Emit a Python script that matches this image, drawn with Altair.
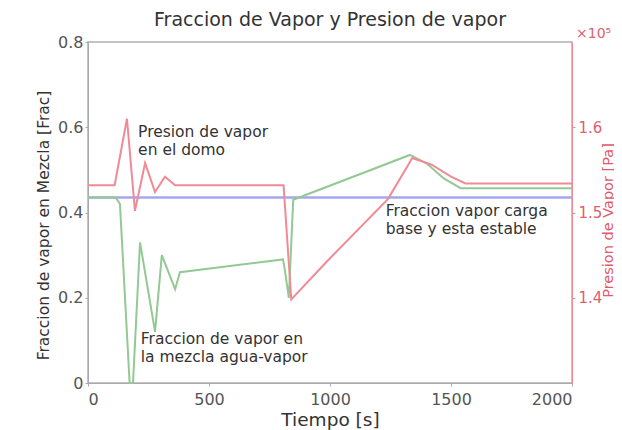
import altair as alt
import pandas as pd

# ---- data ----
x_ticks = [0, 500, 1000, 1500, 2000]
left_ticks = [0, 0.2, 0.4, 0.6, 0.8]
right_ticks = [1.4, 1.5, 1.6]

t_blue = [0, 2000]
v_blue = [0.435, 0.435]

t_green = [0, 115, 132, 172, 186, 215, 277, 305, 360, 380, 806, 812, 830, 848,
           1330, 1400, 1470, 1540, 2000]
v_green = [0.435, 0.435, 0.42, 0.0, 0.0, 0.33, 0.12, 0.30, 0.22, 0.26, 0.29, 0.27,
           0.20, 0.43, 0.535, 0.515, 0.48, 0.457, 0.457]

# pressure, in units of 1e5 Pa
t_red = [0, 110, 161, 194, 236, 277, 318, 360, 808, 840, 985, 1240, 1340, 1420,
         1500, 1560, 2000]
v_red = [1.532, 1.532, 1.610, 1.502, 1.558, 1.524, 1.542, 1.532, 1.532, 1.398,
         1.442, 1.516, 1.564, 1.556, 1.542, 1.534, 1.534]

note_t = [207, 1230, 218]
note_v = [0.589, 0.404, 0.103]
note_txt = ["Presion de vapor\nen el domo",
            "Fraccion vapor carga\nbase y esta estable",
            "Fraccion de vapor en\nla mezcla agua-vapor"]

FONT = "DejaVu Sans"
BLUE = "#a6a6f0"
GREEN = "#94c894"
RED = "#f08a96"

df_blue = pd.DataFrame({"t": t_blue, "v": v_blue})
df_green = pd.DataFrame({"t": t_green, "v": v_green})
df_red = pd.DataFrame({"t": t_red, "v": v_red})
df_notes = pd.DataFrame({"t": note_t, "v": note_v, "txt": note_txt})
df_exp = pd.DataFrame({"t": [2000], "v": [1.7], "txt": ["×10⁵"]})

x_enc = alt.X("t:Q", scale=alt.Scale(domain=[0, 2000], nice=False),
              axis=alt.Axis(values=x_ticks, format="d", title="Tiempo [s]", grid=False,
                            labelFontSize=16, labelColor="#555", tickColor="#aaa",
                            domainColor="#aaa", tickSize=3, labelPadding=5,
                            titleFontSize=18.5, titleFontWeight="normal",
                            titleColor="#333", titleY=27))

y_left = alt.Y("v:Q", scale=alt.Scale(domain=[0, 0.8], nice=False),
               axis=alt.Axis(values=left_ticks, format="~g",
                             title="Fraccion de vapor en Mezcla [Frac]",
                             grid=False, labelFontSize=16, labelColor="#555",
                             tickColor="#aaa", domainColor="#aaa", tickSize=3,
                             titleFontSize=15.5, titleFontWeight="normal",
                             titleColor="#333", titleX=-45, titleY=183,
                             titleAngle=270, titleAlign="center",
                             titleBaseline="middle"))

y_right = alt.Y("v:Q", scale=alt.Scale(domain=[1.3, 1.7], nice=False),
                axis=alt.Axis(values=right_ticks, orient="right", format=".1f",
                              title="Presion de Vapor [Pa]", grid=False,
                              labelFontSize=15, labelColor="#e06070", labelPadding=3,
                              tickColor=RED, domainColor=RED, tickSize=3,
                              titleFontSize=14.5, titleFontWeight="normal",
                              titleColor="#e05a6a", titleX=36, titleY=178,
                              titleAngle=270, titleAlign="center",
                              titleBaseline="middle"))

blue = alt.Chart(df_blue).mark_line(color=BLUE, strokeWidth=2.5).encode(x=x_enc, y=y_left)
green = alt.Chart(df_green).mark_line(color=GREEN, strokeWidth=2).encode(x=x_enc, y=y_left)
notes = alt.Chart(df_notes).mark_text(align="left", baseline="middle", lineBreak="\n",
                                      lineHeight=18, fontSize=15.5, font=FONT,
                                      color="#333").encode(x=x_enc, y=y_left, text="txt:N")
left = alt.layer(blue, green, notes)

red = alt.Chart(df_red).mark_line(color=RED, strokeWidth=2).encode(x=x_enc, y=y_right)
exp_txt = alt.Chart(df_exp).mark_text(align="left", baseline="bottom", fontSize=14,
                                      font=FONT, color="#e06070", dx=4, dy=-1).encode(
    x=x_enc, y=y_right, text="txt:N")
right = alt.layer(red, exp_txt)

chart = alt.layer(left, right).resolve_scale(y="independent").properties(
    width=484, height=341,
    title=alt.TitleParams("Fraccion de Vapor y Presion de vapor", fontSize=19,
                          fontWeight="normal", color="#333", font=FONT, offset=-3,
                          anchor="middle"),
    autosize=alt.AutoSizeParams(type="none"),
    padding={"left": 80, "top": 34, "right": 42, "bottom": 47},
).configure(font=FONT).configure_view(stroke="#b0b0b0", strokeWidth=1.5)

chart.save("out.html", embed_options={"renderer": "svg", "actions": False})
